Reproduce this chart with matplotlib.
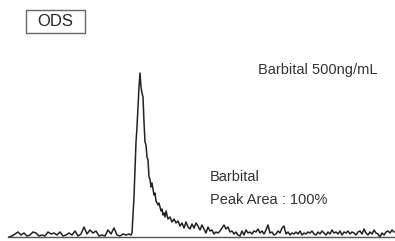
import matplotlib
matplotlib.use("Agg")
import matplotlib.pyplot as plt
from matplotlib.patches import Rectangle

plt.rcParams['font.family'] = ['Liberation Sans', 'DejaVu Sans']

# retention time (arbitrary units) and detector response
time = [9, 12, 15, 18, 21, 24, 27, 30, 33, 36, 39, 42, 45, 48, 51, 54, 57, 60, 63, 66,
        69, 72, 75, 78, 81, 84, 87, 90, 93, 96, 99, 102, 105, 108, 111, 114, 117, 120, 123, 126,
        129, 131,
        132, 134, 136, 137, 139, 140, 141, 142, 143, 144, 145, 146, 147, 148, 149, 150, 151, 152,
        153, 154, 155, 156, 157, 158, 159, 160, 161, 162, 163, 164, 165, 166, 167,
        168, 170, 172, 174, 176, 178, 180, 182, 184, 186, 188, 190, 192, 194, 196, 198, 200, 202,
        204, 206, 208, 210, 212, 214, 216, 218, 220, 222, 224, 226, 228, 230, 232, 234, 236, 238,
        240, 242, 244, 246, 248, 250, 252, 254, 256, 258, 260, 262, 264, 266, 268, 270, 272, 274,
        276, 278, 280, 282, 284, 286, 288, 290, 292, 294, 296, 298, 300, 302, 304, 306, 308, 310,
        312, 314, 316, 318, 320, 322, 324, 326, 328, 330, 332, 334, 336, 338, 340, 342, 344, 346,
        348, 350, 352, 354, 356, 358, 360, 362, 364, 366, 368, 370, 372, 374, 376, 378, 380, 382,
        384, 386, 388, 390, 392, 394]
signal = [0, 1, 3, 5, 2, 4, 1, 2, 5, 4, 1, 2, 1, 5, 3, 4, 2, 5, 1, 2,
          4, 2, 6, 1, 3, 10, 3, 7, 4, 6, 1, 2, 1, 7, 3, 9, 2, 1, 3, 2,
          3, 2,
          4, 40, 95, 110, 150, 164, 150, 144, 140, 115, 95, 92, 80, 77, 60, 58, 50, 54,
          48, 42, 44, 36, 34, 32, 34, 30, 26, 28, 22, 24, 20, 26, 22,
          18, 20, 15, 18, 14, 16, 11, 14, 9, 15, 10, 8, 13, 9, 14, 11, 7, 12,
          8, 4, 10, 6, 7, 3, 5, 4, 6, 9, 12, 8, 10, 5, 6, 3, 5, 2,
          1, 6, 2, 7, 4, 5, 3, 6, 5, 8, 4, 6, 3, 7, 12, 4, 5, 2,
          3, 6, 4, 9, 11, 3, 5, 2, 4, 3, 5, 3, 6, 2, 4, 3, 5, 4,
          6, 3, 2, 5, 3, 6, 4, 2, 5, 3, 7, 4, 5, 3, 6, 2, 5, 4,
          6, 3, 5, 4, 2, 5, 6, 3, 8, 4, 2, 5, 3, 7, 4, 3, 0, 4,
          2, 5, 6, 4, 7, 5]

column = "ODS"
sample = "Barbital 500ng/mL"
compound = "Barbital"
area = "Peak Area : 100%"

fig = plt.figure(figsize=(3.95, 2.41), dpi=100)
ax = fig.add_axes([0, 0, 1, 1])
ax.plot(time, signal, color='#222222', lw=1.1)
ax.set_xlim(0, 395)
ax.set_ylim(-4, 237)

for s in ['top', 'right', 'left']:
    ax.spines[s].set_visible(False)
ax.spines['bottom'].set_position(('data', 0))
ax.spines['bottom'].set_bounds(8, 395)
ax.spines['bottom'].set_color('#555555')
ax.spines['bottom'].set_linewidth(1.0)
ax.set_xticks([])
ax.set_yticks([])

# column label box
ax.add_patch(Rectangle((25.5, 204), 59, 23, fill=False, ec='#666666', lw=1.0))
ax.text(55, 215.5, column, fontsize=12, ha='center', va='center', color='#222222')

ax.text(258, 167, sample, fontsize=10.5, ha='left', va='center', color='#333333')
ax.text(210, 60, compound, fontsize=10.5, ha='left', va='center', color='#333333')
ax.text(210, 37, area, fontsize=10.5, ha='left', va='center', color='#333333')

fig.savefig('out.png', dpi=100)
